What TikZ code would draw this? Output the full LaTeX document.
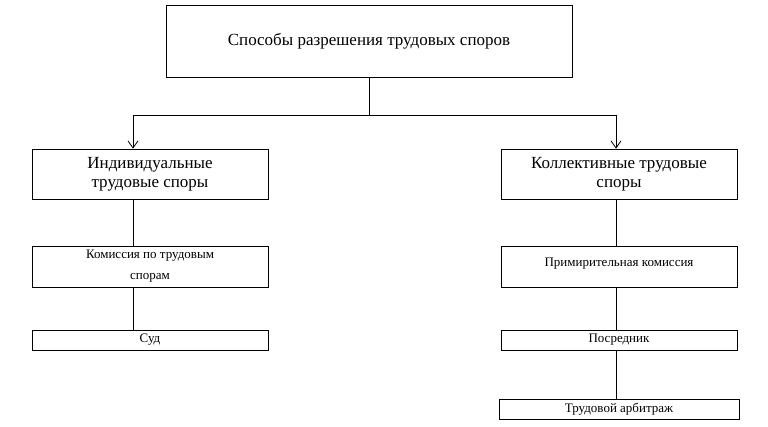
\documentclass[tikz,border=0pt]{standalone}
\usepackage{fontspec}
\setmainfont{Liberation Serif}
\usetikzlibrary{arrows.meta}
\begin{document}
\begin{tikzpicture}[x=1pt,y=-1pt,
  bx/.style={draw,line width=0.8pt,inner sep=0pt},
  ln/.style={line width=0.8pt},
  ar/.style={line width=0.8pt,-{Straight Barb[length=7pt,width=10pt]}}]
\useasboundingbox (0,0) rectangle (768,427);
\node[bx,minimum width=406pt,minimum height=72pt,font=\fontsize{17}{20}\selectfont] (t) at (369,41) {Способы разрешения трудовых споров};
\node[bx,minimum width=236pt,minimum height=50pt,align=center,font=\fontsize{17}{19}\selectfont] (l) at (150,174) {Индивидуальные\\трудовые споры};
\node[bx,minimum width=236pt,minimum height=50pt,align=center,font=\fontsize{17}{19}\selectfont] (r) at (619,174) {Коллективные трудовые\\споры};
\node[bx,minimum width=236pt,minimum height=41pt,align=center,font=\fontsize{13}{21}\selectfont] (l1) at (150,266.5) {Комиссия по трудовым\\спорам};
\node[bx,minimum width=236pt,minimum height=20pt,font=\fontsize{13}{15}\selectfont] (l2) at (150,340) {Суд};
\node[bx,minimum width=236pt,minimum height=41pt,align=center,font=\fontsize{13}{15}\selectfont] (r1) at (619,266.5) {\raisebox{9pt}{Примирительная комиссия}};
\node[bx,minimum width=236pt,minimum height=20pt,font=\fontsize{13}{15}\selectfont] (r2) at (619,340) {Посредник};
\node[bx,minimum width=240pt,minimum height=20pt,font=\fontsize{13}{15}\selectfont] (r3) at (619,409) {Трудовой арбитраж};
\coordinate (m) at (369,115);
\coordinate (ml) at (133,115);
\coordinate (mr) at (616,115);
\draw[ln] (t.south -| m) -- (m);
\draw[ln] (ml) -- (mr);
\draw[ar] (ml) -- (ml |- l.north);
\draw[ar] (mr) -- (mr |- r.north);
\draw[ln] (ml |- l.south) -- (ml |- l1.north);
\draw[ln] (ml |- l1.south) -- (ml |- l2.north);
\draw[ln] (mr |- r.south) -- (mr |- r1.north);
\draw[ln] (mr |- r1.south) -- (mr |- r2.north);
\draw[ln] (mr |- r2.south) -- (mr |- r3.north);
\end{tikzpicture}
\end{document}
